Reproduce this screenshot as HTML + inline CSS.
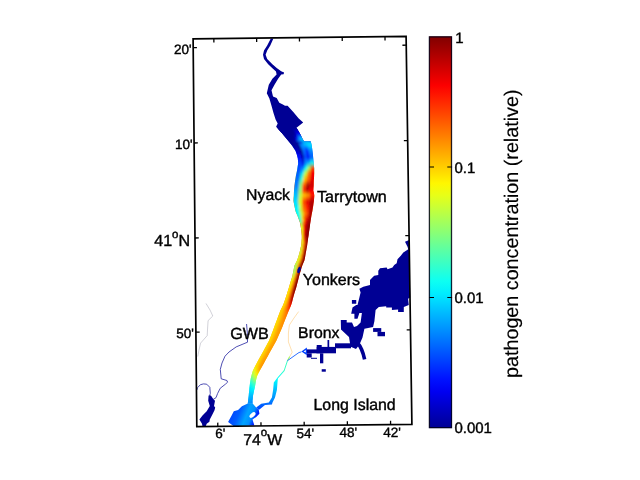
<!DOCTYPE html>
<html lang="en"><head><meta charset="utf-8"><title>pathogen concentration (relative)</title>
<style>html,body{margin:0;padding:0;background:#fff;overflow:hidden}body{width:640px;height:480px}</style>
</head><body>
<svg width="640" height="480" viewBox="0 0 640 480" style="display:block">
<defs>
<linearGradient id="jet" x1="0" y1="0" x2="0" y2="1">
<stop offset="0.0000" stop-color="#800000"/>
<stop offset="0.0312" stop-color="#9f0000"/>
<stop offset="0.0625" stop-color="#be0000"/>
<stop offset="0.0938" stop-color="#dd0000"/>
<stop offset="0.1250" stop-color="#fc0000"/>
<stop offset="0.1562" stop-color="#ff1d00"/>
<stop offset="0.1875" stop-color="#ff3c00"/>
<stop offset="0.2188" stop-color="#ff5b00"/>
<stop offset="0.2500" stop-color="#ff7a00"/>
<stop offset="0.2812" stop-color="#ff9a00"/>
<stop offset="0.3125" stop-color="#ffb900"/>
<stop offset="0.3438" stop-color="#ffd800"/>
<stop offset="0.3750" stop-color="#fff700"/>
<stop offset="0.4062" stop-color="#e7ff18"/>
<stop offset="0.4375" stop-color="#c8ff37"/>
<stop offset="0.4688" stop-color="#a9ff56"/>
<stop offset="0.5000" stop-color="#8aff75"/>
<stop offset="0.5312" stop-color="#6aff95"/>
<stop offset="0.5625" stop-color="#4bffb4"/>
<stop offset="0.5938" stop-color="#2cffd3"/>
<stop offset="0.6250" stop-color="#0dfff2"/>
<stop offset="0.6562" stop-color="#00edff"/>
<stop offset="0.6875" stop-color="#00cdff"/>
<stop offset="0.7188" stop-color="#00aeff"/>
<stop offset="0.7500" stop-color="#008fff"/>
<stop offset="0.7812" stop-color="#0070ff"/>
<stop offset="0.8125" stop-color="#0050ff"/>
<stop offset="0.8438" stop-color="#0031ff"/>
<stop offset="0.8750" stop-color="#0012ff"/>
<stop offset="0.9062" stop-color="#0000f2"/>
<stop offset="0.9375" stop-color="#0000d2"/>
<stop offset="0.9688" stop-color="#0000b3"/>
<stop offset="1.0000" stop-color="#000094"/>
</linearGradient>
<linearGradient id="ln0" gradientUnits="userSpaceOnUse" x1="0" y1="128.0" x2="0" y2="404.0">
<stop offset="0.0000" stop-color="#000094"/>
<stop offset="0.0217" stop-color="#000094"/>
<stop offset="0.0362" stop-color="#000094"/>
<stop offset="0.0471" stop-color="#000094"/>
<stop offset="0.0616" stop-color="#000094"/>
<stop offset="0.0797" stop-color="#0000bc"/>
<stop offset="0.1051" stop-color="#000dff"/>
<stop offset="0.1268" stop-color="#003fff"/>
<stop offset="0.1449" stop-color="#0049ff"/>
<stop offset="0.1630" stop-color="#005dff"/>
<stop offset="0.1884" stop-color="#0071ff"/>
<stop offset="0.2101" stop-color="#0085ff"/>
<stop offset="0.2246" stop-color="#00a3ff"/>
<stop offset="0.2428" stop-color="#00c1ff"/>
<stop offset="0.2681" stop-color="#00dfff"/>
<stop offset="0.2899" stop-color="#00f3ff"/>
<stop offset="0.3116" stop-color="#08fff7"/>
<stop offset="0.3333" stop-color="#3affc5"/>
<stop offset="0.3551" stop-color="#daff25"/>
<stop offset="0.3877" stop-color="#eeff11"/>
<stop offset="0.4167" stop-color="#daff25"/>
<stop offset="0.4493" stop-color="#bcff43"/>
<stop offset="0.4783" stop-color="#daff25"/>
<stop offset="0.5036" stop-color="#8aff75"/>
<stop offset="0.5217" stop-color="#8aff75"/>
<stop offset="0.5507" stop-color="#eeff11"/>
<stop offset="0.5870" stop-color="#fff200"/>
<stop offset="0.6232" stop-color="#ffe800"/>
<stop offset="0.6449" stop-color="#ffde00"/>
<stop offset="0.6667" stop-color="#ffd400"/>
<stop offset="0.6957" stop-color="#ffde00"/>
<stop offset="0.7500" stop-color="#ffde00"/>
<stop offset="0.8043" stop-color="#ffde00"/>
<stop offset="0.8406" stop-color="#ffde00"/>
<stop offset="0.8623" stop-color="#ffe800"/>
<stop offset="0.8768" stop-color="#daff25"/>
<stop offset="0.8913" stop-color="#9eff61"/>
<stop offset="0.9058" stop-color="#58ffa7"/>
<stop offset="0.9239" stop-color="#12ffed"/>
<stop offset="0.9457" stop-color="#00dfff"/>
<stop offset="0.9674" stop-color="#00b7ff"/>
<stop offset="0.9855" stop-color="#0099ff"/>
<stop offset="1.0000" stop-color="#007bff"/>
</linearGradient>
<linearGradient id="ln1" gradientUnits="userSpaceOnUse" x1="0" y1="128.0" x2="0" y2="404.0">
<stop offset="0.0000" stop-color="#000094"/>
<stop offset="0.0217" stop-color="#000094"/>
<stop offset="0.0362" stop-color="#000094"/>
<stop offset="0.0471" stop-color="#000094"/>
<stop offset="0.0616" stop-color="#000094"/>
<stop offset="0.0797" stop-color="#000094"/>
<stop offset="0.1051" stop-color="#0000a8"/>
<stop offset="0.1268" stop-color="#0000e4"/>
<stop offset="0.1449" stop-color="#0071ff"/>
<stop offset="0.1630" stop-color="#00dfff"/>
<stop offset="0.1884" stop-color="#3affc5"/>
<stop offset="0.2101" stop-color="#8aff75"/>
<stop offset="0.2246" stop-color="#8aff75"/>
<stop offset="0.2428" stop-color="#bcff43"/>
<stop offset="0.2681" stop-color="#daff25"/>
<stop offset="0.2899" stop-color="#c6ff39"/>
<stop offset="0.3116" stop-color="#bcff43"/>
<stop offset="0.3333" stop-color="#ffde00"/>
<stop offset="0.3551" stop-color="#ff3400"/>
<stop offset="0.3877" stop-color="#ff2000"/>
<stop offset="0.4167" stop-color="#ffac00"/>
<stop offset="0.4493" stop-color="#fffc00"/>
<stop offset="0.4783" stop-color="#fff200"/>
<stop offset="0.5036" stop-color="#daff25"/>
<stop offset="0.5217" stop-color="#eeff11"/>
<stop offset="0.5507" stop-color="#ffde00"/>
<stop offset="0.5870" stop-color="#ffca00"/>
<stop offset="0.6232" stop-color="#ffc000"/>
<stop offset="0.6449" stop-color="#ffb600"/>
<stop offset="0.6667" stop-color="#ffc000"/>
<stop offset="0.6957" stop-color="#ffca00"/>
<stop offset="0.7500" stop-color="#ffca00"/>
<stop offset="0.8043" stop-color="#ffca00"/>
<stop offset="0.8406" stop-color="#ffca00"/>
<stop offset="0.8623" stop-color="#ffd400"/>
<stop offset="0.8768" stop-color="#fffc00"/>
<stop offset="0.8913" stop-color="#c6ff39"/>
<stop offset="0.9058" stop-color="#76ff89"/>
<stop offset="0.9239" stop-color="#26ffd9"/>
<stop offset="0.9457" stop-color="#00e9ff"/>
<stop offset="0.9674" stop-color="#00c1ff"/>
<stop offset="0.9855" stop-color="#00a3ff"/>
<stop offset="1.0000" stop-color="#008fff"/>
</linearGradient>
<linearGradient id="ln2" gradientUnits="userSpaceOnUse" x1="0" y1="128.0" x2="0" y2="404.0">
<stop offset="0.0000" stop-color="#000094"/>
<stop offset="0.0217" stop-color="#000094"/>
<stop offset="0.0362" stop-color="#000094"/>
<stop offset="0.0471" stop-color="#0000c6"/>
<stop offset="0.0616" stop-color="#008fff"/>
<stop offset="0.0797" stop-color="#0071ff"/>
<stop offset="0.1051" stop-color="#0049ff"/>
<stop offset="0.1268" stop-color="#008fff"/>
<stop offset="0.1449" stop-color="#12ffed"/>
<stop offset="0.1630" stop-color="#bcff43"/>
<stop offset="0.1884" stop-color="#ffc000"/>
<stop offset="0.2101" stop-color="#ff4800"/>
<stop offset="0.2246" stop-color="#ff3400"/>
<stop offset="0.2428" stop-color="#ffc000"/>
<stop offset="0.2681" stop-color="#ff4800"/>
<stop offset="0.2899" stop-color="#ff7000"/>
<stop offset="0.3116" stop-color="#ff9800"/>
<stop offset="0.3333" stop-color="#ff3400"/>
<stop offset="0.3551" stop-color="#e30000"/>
<stop offset="0.3877" stop-color="#cf0000"/>
<stop offset="0.4167" stop-color="#ff4800"/>
<stop offset="0.4493" stop-color="#ff5c00"/>
<stop offset="0.4783" stop-color="#ff7000"/>
<stop offset="0.5036" stop-color="#ff8400"/>
<stop offset="0.5217" stop-color="#ff7000"/>
<stop offset="0.5507" stop-color="#ff5c00"/>
<stop offset="0.5870" stop-color="#ff5c00"/>
<stop offset="0.6232" stop-color="#ff7000"/>
<stop offset="0.6449" stop-color="#ff8400"/>
<stop offset="0.6667" stop-color="#ffa200"/>
<stop offset="0.6957" stop-color="#ffac00"/>
<stop offset="0.7500" stop-color="#ffac00"/>
<stop offset="0.8043" stop-color="#ffac00"/>
<stop offset="0.8406" stop-color="#ffac00"/>
<stop offset="0.8623" stop-color="#ffb600"/>
<stop offset="0.8768" stop-color="#ffd400"/>
<stop offset="0.8913" stop-color="#eeff11"/>
<stop offset="0.9058" stop-color="#9eff61"/>
<stop offset="0.9239" stop-color="#3affc5"/>
<stop offset="0.9457" stop-color="#00f3ff"/>
<stop offset="0.9674" stop-color="#00cbff"/>
<stop offset="0.9855" stop-color="#00adff"/>
<stop offset="1.0000" stop-color="#0099ff"/>
</linearGradient>
<linearGradient id="ln3" gradientUnits="userSpaceOnUse" x1="0" y1="128.0" x2="0" y2="404.0">
<stop offset="0.0000" stop-color="#000094"/>
<stop offset="0.0217" stop-color="#000094"/>
<stop offset="0.0362" stop-color="#0000f8"/>
<stop offset="0.0471" stop-color="#00adff"/>
<stop offset="0.0616" stop-color="#00c1ff"/>
<stop offset="0.0797" stop-color="#002bff"/>
<stop offset="0.1051" stop-color="#0000f8"/>
<stop offset="0.1268" stop-color="#00c1ff"/>
<stop offset="0.1449" stop-color="#bcff43"/>
<stop offset="0.1630" stop-color="#ff7a00"/>
<stop offset="0.1884" stop-color="#ff5c00"/>
<stop offset="0.2101" stop-color="#9d0000"/>
<stop offset="0.2246" stop-color="#bb0000"/>
<stop offset="0.2428" stop-color="#ff9800"/>
<stop offset="0.2681" stop-color="#e30000"/>
<stop offset="0.2899" stop-color="#ff2000"/>
<stop offset="0.3116" stop-color="#ff4800"/>
<stop offset="0.3333" stop-color="#cf0000"/>
<stop offset="0.3551" stop-color="#930000"/>
<stop offset="0.3877" stop-color="#890000"/>
<stop offset="0.4167" stop-color="#b10000"/>
<stop offset="0.4493" stop-color="#b10000"/>
<stop offset="0.4783" stop-color="#a70000"/>
<stop offset="0.5036" stop-color="#a70000"/>
<stop offset="0.5217" stop-color="#9d0000"/>
<stop offset="0.5507" stop-color="#9d0000"/>
<stop offset="0.5870" stop-color="#a70000"/>
<stop offset="0.6232" stop-color="#e30000"/>
<stop offset="0.6449" stop-color="#ff4800"/>
<stop offset="0.6667" stop-color="#ff8400"/>
<stop offset="0.6957" stop-color="#ff9800"/>
<stop offset="0.7500" stop-color="#ffa200"/>
<stop offset="0.8043" stop-color="#ffa200"/>
<stop offset="0.8406" stop-color="#ffa200"/>
<stop offset="0.8623" stop-color="#ffa200"/>
<stop offset="0.8768" stop-color="#ffb600"/>
<stop offset="0.8913" stop-color="#fff200"/>
<stop offset="0.9058" stop-color="#bcff43"/>
<stop offset="0.9239" stop-color="#4effb1"/>
<stop offset="0.9457" stop-color="#00fdff"/>
<stop offset="0.9674" stop-color="#00c1ff"/>
<stop offset="0.9855" stop-color="#00a3ff"/>
<stop offset="1.0000" stop-color="#0085ff"/>
</linearGradient>
<linearGradient id="ln4" gradientUnits="userSpaceOnUse" x1="0" y1="128.0" x2="0" y2="404.0">
<stop offset="0.0000" stop-color="#000094"/>
<stop offset="0.0217" stop-color="#0000f8"/>
<stop offset="0.0362" stop-color="#00c1ff"/>
<stop offset="0.0471" stop-color="#00c1ff"/>
<stop offset="0.0616" stop-color="#00dfff"/>
<stop offset="0.0797" stop-color="#008fff"/>
<stop offset="0.1051" stop-color="#005dff"/>
<stop offset="0.1268" stop-color="#12ffed"/>
<stop offset="0.1449" stop-color="#ff4800"/>
<stop offset="0.1630" stop-color="#f70000"/>
<stop offset="0.1884" stop-color="#e30000"/>
<stop offset="0.2101" stop-color="#cf0000"/>
<stop offset="0.2246" stop-color="#f70000"/>
<stop offset="0.2428" stop-color="#ff1600"/>
<stop offset="0.2681" stop-color="#b10000"/>
<stop offset="0.2899" stop-color="#b10000"/>
<stop offset="0.3116" stop-color="#b10000"/>
<stop offset="0.3333" stop-color="#9d0000"/>
<stop offset="0.3551" stop-color="#800000"/>
<stop offset="0.3877" stop-color="#800000"/>
<stop offset="0.4167" stop-color="#800000"/>
<stop offset="0.4493" stop-color="#800000"/>
<stop offset="0.4783" stop-color="#800000"/>
<stop offset="0.5036" stop-color="#800000"/>
<stop offset="0.5217" stop-color="#800000"/>
<stop offset="0.5507" stop-color="#800000"/>
<stop offset="0.5870" stop-color="#800000"/>
<stop offset="0.6232" stop-color="#a70000"/>
<stop offset="0.6449" stop-color="#f70000"/>
<stop offset="0.6667" stop-color="#ff6600"/>
<stop offset="0.6957" stop-color="#ff8400"/>
<stop offset="0.7500" stop-color="#ff9800"/>
<stop offset="0.8043" stop-color="#ff9800"/>
<stop offset="0.8406" stop-color="#ff9800"/>
<stop offset="0.8623" stop-color="#ff8e00"/>
<stop offset="0.8768" stop-color="#ffa200"/>
<stop offset="0.8913" stop-color="#ffde00"/>
<stop offset="0.9058" stop-color="#d0ff2f"/>
<stop offset="0.9239" stop-color="#62ff9d"/>
<stop offset="0.9457" stop-color="#00fdff"/>
<stop offset="0.9674" stop-color="#00b7ff"/>
<stop offset="0.9855" stop-color="#008fff"/>
<stop offset="1.0000" stop-color="#0067ff"/>
</linearGradient>
<linearGradient id="bay" gradientUnits="userSpaceOnUse" x1="231" y1="409" x2="259" y2="421">
<stop offset="0" stop-color="#003fff"/>
<stop offset="0.3" stop-color="#005dff"/>
<stop offset="0.55" stop-color="#00a3ff"/>
<stop offset="0.72" stop-color="#008fff"/>
<stop offset="0.85" stop-color="#002bff"/>
<stop offset="1" stop-color="#0000f8"/>
</linearGradient>
<linearGradient id="er" gradientUnits="userSpaceOnUse" x1="0" y1="370" x2="0" y2="408">
<stop offset="0" stop-color="#3affc5"/>
<stop offset="0.25" stop-color="#00fdff"/>
<stop offset="0.5" stop-color="#00c1ff"/>
<stop offset="0.8" stop-color="#0085ff"/>
<stop offset="1" stop-color="#0049ff"/>
</linearGradient>
<clipPath id="stemclip"><polygon points="277.5,128.3 279.8,130.8 282.0,133.3 284.0,135.8 286.1,138.3 288.2,140.8 288.5,141.2 288.6,141.3 290.2,143.3 292.2,145.8 293.8,148.3 295.5,150.8 296.4,153.3 297.2,155.8 297.8,158.3 298.0,160.8 298.2,163.3 297.8,165.8 297.4,168.3 297.0,170.8 296.4,173.3 295.9,175.8 295.5,178.3 295.1,180.8 294.8,183.3 294.5,185.8 294.3,188.3 294.0,190.8 293.9,193.3 293.8,195.8 293.6,198.3 293.5,200.8 293.9,203.3 294.4,205.8 294.9,208.3 295.4,210.8 296.3,213.3 297.5,215.8 298.4,218.3 299.3,220.8 300.2,223.3 300.6,225.8 301.0,228.3 301.4,230.8 301.6,233.3 301.8,235.8 301.8,238.3 301.6,240.8 301.4,243.3 301.1,245.8 300.5,248.3 300.0,250.8 299.3,253.3 298.6,255.8 297.8,258.3 296.9,260.8 295.6,263.3 294.4,265.8 293.9,268.3 293.4,270.8 292.9,273.3 292.4,275.8 291.7,278.3 290.9,280.8 290.2,283.3 289.4,285.8 288.7,288.3 287.9,290.8 287.1,293.3 286.4,295.8 285.5,298.3 284.7,300.8 283.8,303.3 282.8,305.8 281.5,308.3 280.3,310.8 279.4,313.3 278.4,315.8 277.5,318.3 276.6,320.8 275.6,323.3 274.7,325.8 273.8,328.3 272.9,330.8 271.9,333.3 271.0,335.8 270.0,338.3 269.0,340.8 267.6,343.3 266.3,345.8 264.9,348.3 263.6,350.8 262.2,353.3 260.8,355.8 259.4,358.3 258.0,360.8 256.7,363.3 255.4,365.8 254.1,368.3 252.9,370.8 252.1,373.3 251.4,375.8 250.8,378.3 250.4,380.8 250.0,383.3 249.7,385.8 249.4,388.3 249.2,390.8 248.9,393.3 248.7,395.8 248.4,398.3 248.1,400.8 247.8,403.3 247.8,403.8 252.6,403.8 252.6,403.3 252.5,400.8 252.8,398.3 253.0,395.8 253.5,393.3 254.0,390.8 254.6,388.3 255.1,385.8 255.5,383.3 255.9,380.8 256.5,378.3 257.2,375.8 258.4,373.3 259.7,370.8 261.1,368.3 262.5,365.8 263.9,363.3 265.2,360.8 266.6,358.3 268.0,355.8 269.3,353.3 270.7,350.8 272.1,348.3 273.5,345.8 274.9,343.3 276.3,340.8 277.4,338.3 278.5,335.8 279.6,333.3 280.7,330.8 281.8,328.3 282.8,325.8 283.7,323.3 284.7,320.8 285.7,318.3 286.7,315.8 287.7,313.3 288.7,310.8 289.8,308.3 290.9,305.8 291.7,303.3 292.4,300.8 293.0,298.3 293.7,295.8 294.4,293.3 295.2,290.8 296.0,288.3 296.7,285.8 297.3,283.3 298.0,280.8 298.6,278.3 299.2,275.8 299.9,273.3 300.7,270.8 301.4,268.3 302.2,265.8 303.2,263.3 304.3,260.8 304.9,258.3 305.3,255.8 305.7,253.3 306.2,250.8 306.6,248.3 307.1,245.8 307.4,243.3 307.8,240.8 308.1,238.3 308.5,235.8 308.8,233.3 309.2,230.8 309.5,228.3 309.9,225.8 310.2,223.3 310.6,220.8 311.0,218.3 311.4,215.8 311.9,213.3 312.4,210.8 312.8,208.3 313.2,205.8 313.5,203.3 313.9,200.8 314.1,198.3 314.3,195.8 314.0,193.3 313.3,190.8 313.4,188.3 313.6,185.8 313.7,183.3 313.8,180.8 314.0,178.3 314.1,175.8 314.2,173.3 314.2,170.8 314.2,168.3 313.9,165.8 313.7,163.3 313.4,160.8 313.2,158.3 313.0,155.8 312.7,153.3 312.4,150.8 312.1,148.3 311.8,145.8 311.2,143.3 310.7,141.3 304.0,141.2 303.7,140.8 302.3,138.3 301.1,135.8 299.7,133.3 298.3,130.8 296.8,128.3"/></clipPath>
<filter id="b1" x="-20%" y="-5%" width="140%" height="110%"><feGaussianBlur stdDeviation="0.9"/></filter>
</defs>
<rect width="640" height="480" fill="#fff"/>
<g fill="#000094">
<polygon points="409.3,240.0 410.2,297.5 408.1,298.8 408.8,305.0 403.8,306.9 403.8,311.9 398.1,311.9 398.1,309.4 391.9,310.0 391.9,307.5 386.2,307.5 386.2,306.2 378.8,306.9 375.6,310.0 374.4,321.2 373.1,326.9 364.4,328.8 362.5,337.5 359.4,344.8 356.0,349.0 350.0,346.5 350.0,343.3 349.0,337.0 341.0,329.5 340.8,320.0 346.7,320.0 346.7,322.5 352.0,322.5 354.0,327.0 357.0,326.0 360.6,322.5 361.9,313.1 359.4,313.1 357.5,318.8 354.4,318.8 354.4,313.8 351.2,313.8 352.5,307.5 356.2,305.0 357.5,305.0 359.4,297.5 360.6,292.5 359.4,288.8 361.9,287.5 363.3,286.7 370.0,285.0 370.0,280.0 371.7,278.3 374.2,275.8 378.3,275.0 378.3,270.8 380.0,268.3 386.7,267.5 387.5,269.2 392.5,267.5 394.2,265.0 396.7,263.3 397.5,259.2 400.8,255.8 403.3,252.5 408.3,249.2 407.5,246.7 405.0,241.7 409.2,240.0"/>
<rect x="351.9" y="300" width="4.35" height="3.75"/>
<rect x="373.1" y="328.1" width="8.15" height="3.80"/>
<rect x="377.5" y="331.9" width="7.50" height="4.35"/>
<rect x="335" y="343.3" width="16.00" height="5.00"/>
<rect x="316.7" y="346.9" width="19.30" height="6.40"/>
<rect x="327.5" y="340" width="1.70" height="7.00"/>
<rect x="316.7" y="345" width="5.00" height="8.30"/>
<rect x="305.5" y="349.4" width="11.50" height="3.90"/>
<rect x="306.7" y="353.3" width="5.00" height="4.20"/>
<rect x="311" y="357.8" width="6.00" height="1.00"/>
<rect x="320" y="353.3" width="3.30" height="10.00"/>
<rect x="321.7" y="369.2" width="4.10" height="2.50"/>
</g>
<path d="M357.2,342.5 Q362.2,348 364.6,359.3" fill="none" stroke="#000094" stroke-width="3.6"/>
<polygon points="301.4,351.6 306.9,347.6 306.9,355.2" fill="#0040ff"/><polygon points="303.6,351.4 305.8,349.9 305.8,352.6" fill="#fff"/>
<polygon points="208.6,395.4 210.9,395.4 213.4,399.3 215.0,400.8 214.0,406.0 215.2,407.5 214.5,410.2 212.4,414.4 209.8,419.6 209.4,421.8 206.7,423.8 205.6,426.4 202.5,426.4 202.0,423.8 199.4,419.6 202.5,415.4 206.7,411.2 209.8,406.0 208.2,400.8" fill="#000094"/>
<polyline points="246.6,324.4 247.3,333.0 247.5,342.2 236.2,346.9 229.0,352.0 225.0,356.2 222.0,363.0 220.3,369.4 221.2,378.8 226.9,380.5 227.6,382.2 225.4,384.2 220.2,388.3 217.6,393.5 216.0,397.7 213.4,399.3" fill="none" stroke="#14149a" stroke-width="0.75" stroke-opacity="1" stroke-linejoin="round" stroke-linecap="round"/>
<polyline points="197.0,389.6 197.6,387.6 200.4,384.7 203.5,383.9 206.7,384.2 209.8,387.3 210.3,393.5 209.5,396.0" fill="none" stroke="#14149a" stroke-width="0.75" stroke-opacity="1" stroke-linejoin="round" stroke-linecap="round"/>
<polyline points="206.2,303.8 210.0,310.0 212.8,316.0 208.1,320.6 207.6,328.0 207.2,335.6 200.6,343.1 199.0,350.0 197.8,356.2" fill="none" stroke="#9a9aaa" stroke-width="0.45" stroke-opacity="1" stroke-linejoin="round" stroke-linecap="round"/>
<polygon points="270.8,38.6 267.2,45.4 264.0,50.6 263.0,54.8 264.0,59.0 268.2,64.2 272.4,68.3 276.0,71.5 276.6,74.6 272.4,78.8 268.8,84.8 266.8,93.3 269.4,98.5 271.5,105.8 273.5,113.1 275.6,119.4 277.7,123.5 276.1,126.7 280.8,131.9 284.0,134.8 300.6,134.8 296.5,127.7 303.2,122.5 298.5,118.3 293.3,112.1 287.6,105.8 285.0,105.8 282.4,104.3 279.3,102.7 276.7,98.0 273.0,96.5 271.5,90.2 274.5,84.8 278.1,78.8 281.2,74.6 283.6,74.2 284.1,72.6 281.2,71.2 277.0,68.3 272.4,64.2 267.2,59.0 265.6,54.8 267.2,50.6 270.3,45.4 273.4,38.6" fill="#000094"/>
<polygon points="277.5,128.3 279.8,130.8 282.0,133.3 284.0,135.8 286.1,138.3 288.2,140.8 288.5,141.2 288.6,141.3 290.2,143.3 292.2,145.8 293.8,148.3 295.5,150.8 296.4,153.3 297.2,155.8 297.8,158.3 298.0,160.8 298.2,163.3 297.8,165.8 297.4,168.3 297.0,170.8 296.4,173.3 295.9,175.8 295.5,178.3 295.1,180.8 294.8,183.3 294.5,185.8 294.3,188.3 294.0,190.8 293.9,193.3 293.8,195.8 293.6,198.3 293.5,200.8 293.9,203.3 294.4,205.8 294.9,208.3 295.4,210.8 296.3,213.3 297.5,215.8 298.4,218.3 299.3,220.8 300.2,223.3 300.6,225.8 301.0,228.3 301.4,230.8 301.6,233.3 301.8,235.8 301.8,238.3 301.6,240.8 301.4,243.3 301.1,245.8 300.5,248.3 300.0,250.8 299.3,253.3 298.6,255.8 297.8,258.3 296.9,260.8 295.6,263.3 294.4,265.8 293.9,268.3 293.4,270.8 292.9,273.3 292.4,275.8 291.7,278.3 290.9,280.8 290.2,283.3 289.4,285.8 288.7,288.3 287.9,290.8 287.1,293.3 286.4,295.8 285.5,298.3 284.7,300.8 283.8,303.3 282.8,305.8 281.5,308.3 280.3,310.8 279.4,313.3 278.4,315.8 277.5,318.3 276.6,320.8 275.6,323.3 274.7,325.8 273.8,328.3 272.9,330.8 271.9,333.3 271.0,335.8 270.0,338.3 269.0,340.8 267.6,343.3 266.3,345.8 264.9,348.3 263.6,350.8 262.2,353.3 260.8,355.8 259.4,358.3 258.0,360.8 256.7,363.3 255.4,365.8 254.1,368.3 252.9,370.8 252.1,373.3 251.4,375.8 250.8,378.3 250.4,380.8 250.0,383.3 249.7,385.8 249.4,388.3 249.2,390.8 248.9,393.3 248.7,395.8 248.4,398.3 248.1,400.8 247.8,403.3 247.8,403.8 252.6,403.8 252.6,403.3 252.5,400.8 252.8,398.3 253.0,395.8 253.5,393.3 254.0,390.8 254.6,388.3 255.1,385.8 255.5,383.3 255.9,380.8 256.5,378.3 257.2,375.8 258.4,373.3 259.7,370.8 261.1,368.3 262.5,365.8 263.9,363.3 265.2,360.8 266.6,358.3 268.0,355.8 269.3,353.3 270.7,350.8 272.1,348.3 273.5,345.8 274.9,343.3 276.3,340.8 277.4,338.3 278.5,335.8 279.6,333.3 280.7,330.8 281.8,328.3 282.8,325.8 283.7,323.3 284.7,320.8 285.7,318.3 286.7,315.8 287.7,313.3 288.7,310.8 289.8,308.3 290.9,305.8 291.7,303.3 292.4,300.8 293.0,298.3 293.7,295.8 294.4,293.3 295.2,290.8 296.0,288.3 296.7,285.8 297.3,283.3 298.0,280.8 298.6,278.3 299.2,275.8 299.9,273.3 300.7,270.8 301.4,268.3 302.2,265.8 303.2,263.3 304.3,260.8 304.9,258.3 305.3,255.8 305.7,253.3 306.2,250.8 306.6,248.3 307.1,245.8 307.4,243.3 307.8,240.8 308.1,238.3 308.5,235.8 308.8,233.3 309.2,230.8 309.5,228.3 309.9,225.8 310.2,223.3 310.6,220.8 311.0,218.3 311.4,215.8 311.9,213.3 312.4,210.8 312.8,208.3 313.2,205.8 313.5,203.3 313.9,200.8 314.1,198.3 314.3,195.8 314.0,193.3 313.3,190.8 313.4,188.3 313.6,185.8 313.7,183.3 313.8,180.8 314.0,178.3 314.1,175.8 314.2,173.3 314.2,170.8 314.2,168.3 313.9,165.8 313.7,163.3 313.4,160.8 313.2,158.3 313.0,155.8 312.7,153.3 312.4,150.8 312.1,148.3 311.8,145.8 311.2,143.3 310.7,141.3 304.0,141.2 303.7,140.8 302.3,138.3 301.1,135.8 299.7,133.3 298.3,130.8 296.8,128.3" fill="url(#ln2)"/>
<g clip-path="url(#stemclip)"><g filter="url(#b1)">
<polygon points="271.8,128.3 274.3,130.8 276.6,133.3 278.9,135.8 281.2,138.3 283.5,140.8 283.9,141.2 281.9,141.3 284.0,143.3 286.3,145.8 288.3,148.3 290.4,150.8 291.5,153.3 292.5,155.8 293.2,158.3 293.3,160.8 293.5,163.3 293.0,165.8 292.4,168.3 291.8,170.8 291.1,173.3 290.5,175.8 289.9,178.3 289.4,180.8 289.1,183.3 288.8,185.8 288.5,188.3 288.2,190.8 287.9,193.3 287.6,195.8 287.5,198.3 287.4,200.8 288.0,203.3 288.8,205.8 289.6,208.3 290.3,210.8 291.7,213.3 293.3,215.8 294.7,218.3 296.0,220.8 297.2,223.3 297.9,225.8 298.4,228.3 299.0,230.8 299.4,233.3 299.8,235.8 299.9,238.3 299.8,240.8 299.6,243.3 299.3,245.8 298.7,248.3 298.1,250.8 297.4,253.3 296.6,255.8 295.7,258.3 294.7,260.8 293.3,263.3 292.1,265.8 291.7,268.3 291.2,270.8 290.8,273.3 290.4,275.8 289.6,278.3 288.8,280.8 288.0,283.3 287.2,285.8 286.5,288.3 285.7,290.8 285.0,293.3 284.2,295.8 283.3,298.3 282.4,300.8 281.4,303.3 280.3,305.8 279.0,308.3 277.8,310.8 276.9,313.3 275.9,315.8 275.0,318.3 274.1,320.8 273.2,323.3 272.2,325.8 271.4,328.3 270.5,330.8 269.6,333.3 268.7,335.8 267.8,338.3 266.8,340.8 265.5,343.3 264.1,345.8 262.8,348.3 261.5,350.8 260.0,353.3 258.6,355.8 257.2,358.3 255.8,360.8 254.5,363.3 253.3,365.8 252.0,368.3 250.9,370.8 250.2,373.3 249.6,375.8 249.1,378.3 248.8,380.8 248.4,383.3 248.0,385.8 247.9,388.3 247.7,390.8 247.5,393.3 247.3,395.8 247.0,398.3 246.8,400.8 246.4,403.3 246.3,403.8 248.9,403.8 248.9,403.3 249.2,400.8 249.4,398.3 249.7,395.8 250.0,393.3 250.3,390.8 250.6,388.3 251.0,385.8 251.4,383.3 251.7,380.8 252.2,378.3 252.8,375.8 253.7,373.3 254.5,370.8 255.8,368.3 257.1,365.8 258.4,363.3 259.7,360.8 261.1,358.3 262.5,355.8 263.9,353.3 265.3,350.8 266.7,348.3 268.0,345.8 269.4,343.3 270.7,340.8 271.8,338.3 272.8,335.8 273.8,333.3 274.8,330.8 275.7,328.3 276.6,325.8 277.6,323.3 278.5,320.8 279.5,318.3 280.4,315.8 281.4,313.3 282.3,310.8 283.5,308.3 284.7,305.8 285.7,303.3 286.5,300.8 287.3,298.3 288.1,295.8 288.9,293.3 289.7,290.8 290.4,288.3 291.2,285.8 291.9,283.3 292.6,280.8 293.3,278.3 294.0,275.8 294.6,273.3 295.2,270.8 295.7,268.3 296.3,265.8 297.4,263.3 298.7,260.8 299.5,258.3 300.2,255.8 300.9,253.3 301.5,250.8 302.0,248.3 302.5,245.8 302.9,243.3 303.1,240.8 303.3,238.3 303.4,235.8 303.3,233.3 303.2,230.8 303.0,228.3 302.9,225.8 302.6,223.3 302.0,220.8 301.4,218.3 300.8,215.8 300.1,213.3 299.5,210.8 299.2,208.3 298.9,205.8 298.6,203.3 298.4,200.8 298.6,198.3 298.7,195.8 298.7,193.3 298.6,190.8 298.9,188.3 299.1,185.8 299.3,183.3 299.6,180.8 299.9,178.3 300.3,175.8 300.7,173.3 301.1,170.8 301.5,168.3 301.7,165.8 301.9,163.3 301.7,160.8 301.5,158.3 301.0,155.8 300.3,153.3 299.5,150.8 298.2,148.3 296.9,145.8 295.3,143.3 293.9,141.3 292.2,141.2 291.9,140.8 290.0,138.3 288.1,135.8 286.2,133.3 284.2,130.8 282.2,128.3" fill="url(#ln0)"/>
<polygon points="282.2,128.3 284.2,130.8 286.2,133.3 288.1,135.8 290.0,138.3 291.9,140.8 292.2,141.2 293.9,141.3 295.3,143.3 296.9,145.8 298.2,148.3 299.5,150.8 300.3,153.3 301.0,155.8 301.5,158.3 301.7,160.8 301.9,163.3 301.7,165.8 301.5,168.3 301.1,170.8 300.7,173.3 300.3,175.8 299.9,178.3 299.6,180.8 299.3,183.3 299.1,185.8 298.9,188.3 298.6,190.8 298.7,193.3 298.7,195.8 298.6,198.3 298.4,200.8 298.6,203.3 298.9,205.8 299.2,208.3 299.5,210.8 300.1,213.3 300.8,215.8 301.4,218.3 302.0,220.8 302.6,223.3 302.9,225.8 303.0,228.3 303.2,230.8 303.3,233.3 303.4,235.8 303.3,238.3 303.1,240.8 302.9,243.3 302.5,245.8 302.0,248.3 301.5,250.8 300.9,253.3 300.2,255.8 299.5,258.3 298.7,260.8 297.4,263.3 296.3,265.8 295.7,268.3 295.2,270.8 294.6,273.3 294.0,275.8 293.3,278.3 292.6,280.8 291.9,283.3 291.2,285.8 290.4,288.3 289.7,290.8 288.9,293.3 288.1,295.8 287.3,298.3 286.5,300.8 285.7,303.3 284.7,305.8 283.5,308.3 282.3,310.8 281.4,313.3 280.4,315.8 279.5,318.3 278.5,320.8 277.6,323.3 276.6,325.8 275.7,328.3 274.8,330.8 273.8,333.3 272.8,335.8 271.8,338.3 270.7,340.8 269.4,343.3 268.0,345.8 266.7,348.3 265.3,350.8 263.9,353.3 262.5,355.8 261.1,358.3 259.7,360.8 258.4,363.3 257.1,365.8 255.8,368.3 254.5,370.8 253.7,373.3 252.8,375.8 252.2,378.3 251.7,380.8 251.4,383.3 251.0,385.8 250.6,388.3 250.3,390.8 250.0,393.3 249.7,395.8 249.4,398.3 249.2,400.8 248.9,403.3 248.9,403.8 249.8,403.8 249.8,403.3 250.0,400.8 250.2,398.3 250.5,395.8 250.8,393.3 251.2,390.8 251.6,388.3 251.9,385.8 252.3,383.3 252.7,380.8 253.2,378.3 253.8,375.8 254.8,373.3 255.8,370.8 257.0,368.3 258.4,365.8 259.7,363.3 261.0,360.8 262.4,358.3 263.8,355.8 265.2,353.3 266.6,350.8 267.9,348.3 269.3,345.8 270.7,343.3 272.0,340.8 273.1,338.3 274.1,335.8 275.2,333.3 276.2,330.8 277.1,328.3 278.1,325.8 279.0,323.3 280.0,320.8 280.9,318.3 281.9,315.8 282.9,313.3 283.8,310.8 285.0,308.3 286.2,305.8 287.1,303.3 287.9,300.8 288.7,298.3 289.4,295.8 290.2,293.3 291.0,290.8 291.7,288.3 292.5,285.8 293.2,283.3 293.9,280.8 294.6,278.3 295.3,275.8 295.9,273.3 296.5,270.8 297.1,268.3 297.7,265.8 298.8,263.3 300.0,260.8 300.8,258.3 301.4,255.8 302.0,253.3 302.6,250.8 303.1,248.3 303.6,245.8 304.0,243.3 304.2,240.8 304.5,238.3 304.6,235.8 304.6,233.3 304.6,230.8 304.6,228.3 304.5,225.8 304.4,223.3 304.1,220.8 303.7,218.3 303.3,215.8 302.9,213.3 302.6,210.8 302.4,208.3 302.3,205.8 302.2,203.3 302.1,200.8 302.2,198.3 302.4,195.8 302.3,193.3 302.1,190.8 302.3,188.3 302.5,185.8 302.7,183.3 302.9,180.8 303.2,178.3 303.6,175.8 303.9,173.3 304.2,170.8 304.5,168.3 304.6,165.8 304.7,163.3 304.5,160.8 304.3,158.3 303.8,155.8 303.2,153.3 302.6,150.8 301.5,148.3 300.4,145.8 299.0,143.3 297.9,141.3 295.0,141.2 294.7,140.8 292.9,138.3 291.2,135.8 289.4,133.3 287.6,130.8 285.7,128.3" fill="url(#ln1)"/>
<polygon points="285.7,128.3 287.6,130.8 289.4,133.3 291.2,135.8 292.9,138.3 294.7,140.8 295.0,141.2 297.9,141.3 299.0,143.3 300.4,145.8 301.5,148.3 302.6,150.8 303.2,153.3 303.8,155.8 304.3,158.3 304.5,160.8 304.7,163.3 304.6,165.8 304.5,168.3 304.2,170.8 303.9,173.3 303.6,175.8 303.2,178.3 302.9,180.8 302.7,183.3 302.5,185.8 302.3,188.3 302.1,190.8 302.3,193.3 302.4,195.8 302.2,198.3 302.1,200.8 302.2,203.3 302.3,205.8 302.4,208.3 302.6,210.8 302.9,213.3 303.3,215.8 303.7,218.3 304.1,220.8 304.4,223.3 304.5,225.8 304.6,228.3 304.6,230.8 304.6,233.3 304.6,235.8 304.5,238.3 304.2,240.8 304.0,243.3 303.6,245.8 303.1,248.3 302.6,250.8 302.0,253.3 301.4,255.8 300.8,258.3 300.0,260.8 298.8,263.3 297.7,265.8 297.1,268.3 296.5,270.8 295.9,273.3 295.3,275.8 294.6,278.3 293.9,280.8 293.2,283.3 292.5,285.8 291.7,288.3 291.0,290.8 290.2,293.3 289.4,295.8 288.7,298.3 287.9,300.8 287.1,303.3 286.2,305.8 285.0,308.3 283.8,310.8 282.9,313.3 281.9,315.8 280.9,318.3 280.0,320.8 279.0,323.3 278.1,325.8 277.1,328.3 276.2,330.8 275.2,333.3 274.1,335.8 273.1,338.3 272.0,340.8 270.7,343.3 269.3,345.8 267.9,348.3 266.6,350.8 265.2,353.3 263.8,355.8 262.4,358.3 261.0,360.8 259.7,363.3 258.4,365.8 257.0,368.3 255.8,370.8 254.8,373.3 253.8,375.8 253.2,378.3 252.7,380.8 252.3,383.3 251.9,385.8 251.6,388.3 251.2,390.8 250.8,393.3 250.5,395.8 250.2,398.3 250.0,400.8 249.8,403.3 249.8,403.8 250.7,403.8 250.7,403.3 250.8,400.8 251.0,398.3 251.3,395.8 251.6,393.3 252.1,390.8 252.5,388.3 252.9,385.8 253.3,383.3 253.7,380.8 254.2,378.3 254.9,375.8 255.9,373.3 257.0,370.8 258.3,368.3 259.6,365.8 261.0,363.3 262.3,360.8 263.7,358.3 265.1,355.8 266.5,353.3 267.9,350.8 269.2,348.3 270.6,345.8 272.0,343.3 273.4,340.8 274.5,338.3 275.5,335.8 276.6,333.3 277.6,330.8 278.6,328.3 279.5,325.8 280.5,323.3 281.5,320.8 282.4,318.3 283.4,315.8 284.4,313.3 285.3,310.8 286.5,308.3 287.7,305.8 288.6,303.3 289.3,300.8 290.0,298.3 290.8,295.8 291.5,293.3 292.3,290.8 293.1,288.3 293.8,285.8 294.5,283.3 295.1,280.8 295.8,278.3 296.5,275.8 297.1,273.3 297.8,270.8 298.4,268.3 299.1,265.8 300.2,263.3 301.3,260.8 302.1,258.3 302.6,255.8 303.2,253.3 303.7,250.8 304.2,248.3 304.7,245.8 305.0,243.3 305.3,240.8 305.6,238.3 305.8,235.8 305.9,233.3 306.1,230.8 306.1,228.3 306.2,225.8 306.2,223.3 306.1,220.8 305.9,218.3 305.8,215.8 305.7,213.3 305.6,210.8 305.6,208.3 305.7,205.8 305.7,203.3 305.7,200.8 305.9,198.3 306.1,195.8 305.9,193.3 305.6,190.8 305.8,188.3 306.0,185.8 306.1,183.3 306.3,180.8 306.6,178.3 306.9,175.8 307.1,173.3 307.3,170.8 307.5,168.3 307.5,165.8 307.5,163.3 307.3,160.8 307.0,158.3 306.7,155.8 306.2,153.3 305.6,150.8 304.8,148.3 303.9,145.8 302.8,143.3 301.9,141.3 297.8,141.2 297.5,140.8 295.8,138.3 294.3,135.8 292.6,133.3 290.9,130.8 289.1,128.3" fill="url(#ln2)"/>
<polygon points="289.1,128.3 290.9,130.8 292.6,133.3 294.3,135.8 295.8,138.3 297.5,140.8 297.8,141.2 301.9,141.3 302.8,143.3 303.9,145.8 304.8,148.3 305.6,150.8 306.2,153.3 306.7,155.8 307.0,158.3 307.3,160.8 307.5,163.3 307.5,165.8 307.5,168.3 307.3,170.8 307.1,173.3 306.9,175.8 306.6,178.3 306.3,180.8 306.1,183.3 306.0,185.8 305.8,188.3 305.6,190.8 305.9,193.3 306.1,195.8 305.9,198.3 305.7,200.8 305.7,203.3 305.7,205.8 305.6,208.3 305.6,210.8 305.7,213.3 305.8,215.8 305.9,218.3 306.1,220.8 306.2,223.3 306.2,225.8 306.1,228.3 306.1,230.8 305.9,233.3 305.8,235.8 305.6,238.3 305.3,240.8 305.0,243.3 304.7,245.8 304.2,248.3 303.7,250.8 303.2,253.3 302.6,255.8 302.1,258.3 301.3,260.8 300.2,263.3 299.1,265.8 298.4,268.3 297.8,270.8 297.1,273.3 296.5,275.8 295.8,278.3 295.1,280.8 294.5,283.3 293.8,285.8 293.1,288.3 292.3,290.8 291.5,293.3 290.8,295.8 290.0,298.3 289.3,300.8 288.6,303.3 287.7,305.8 286.5,308.3 285.3,310.8 284.4,313.3 283.4,315.8 282.4,318.3 281.5,320.8 280.5,323.3 279.5,325.8 278.6,328.3 277.6,330.8 276.6,333.3 275.5,335.8 274.5,338.3 273.4,340.8 272.0,343.3 270.6,345.8 269.2,348.3 267.9,350.8 266.5,353.3 265.1,355.8 263.7,358.3 262.3,360.8 261.0,363.3 259.6,365.8 258.3,368.3 257.0,370.8 255.9,373.3 254.9,375.8 254.2,378.3 253.7,380.8 253.3,383.3 252.9,385.8 252.5,388.3 252.1,390.8 251.6,393.3 251.3,395.8 251.0,398.3 250.8,400.8 250.7,403.3 250.7,403.8 251.5,403.8 251.5,403.3 251.6,400.8 251.8,398.3 252.1,395.8 252.5,393.3 252.9,390.8 253.4,388.3 253.9,385.8 254.3,383.3 254.7,380.8 255.3,378.3 255.9,375.8 257.1,373.3 258.2,370.8 259.5,368.3 260.9,365.8 262.3,363.3 263.6,360.8 265.0,358.3 266.4,355.8 267.8,353.3 269.1,350.8 270.5,348.3 271.9,345.8 273.3,343.3 274.7,340.8 275.8,338.3 276.9,335.8 277.9,333.3 279.0,330.8 280.0,328.3 281.0,325.8 282.0,323.3 282.9,320.8 283.9,318.3 284.9,315.8 285.9,313.3 286.8,310.8 287.9,308.3 289.1,305.8 290.0,303.3 290.7,300.8 291.4,298.3 292.1,295.8 292.8,293.3 293.6,290.8 294.4,288.3 295.1,285.8 295.8,283.3 296.4,280.8 297.1,278.3 297.7,275.8 298.4,273.3 299.1,270.8 299.8,268.3 300.5,265.8 301.5,263.3 302.6,260.8 303.4,258.3 303.9,255.8 304.3,253.3 304.8,250.8 305.3,248.3 305.7,245.8 306.1,243.3 306.4,240.8 306.7,238.3 307.0,235.8 307.2,233.3 307.5,230.8 307.7,228.3 307.8,225.8 308.0,223.3 308.1,220.8 308.2,218.3 308.3,215.8 308.5,213.3 308.7,210.8 308.9,208.3 309.0,205.8 309.2,203.3 309.4,200.8 309.6,198.3 309.8,195.8 309.5,193.3 309.1,190.8 309.2,188.3 309.4,185.8 309.5,183.3 309.7,180.8 309.9,178.3 310.1,175.8 310.3,173.3 310.4,170.8 310.5,168.3 310.4,165.8 310.3,163.3 310.0,160.8 309.8,158.3 309.5,155.8 309.1,153.3 308.7,150.8 308.1,148.3 307.5,145.8 306.6,143.3 305.8,141.3 300.6,141.2 300.3,140.8 298.7,138.3 297.3,135.8 295.8,133.3 294.2,130.8 292.6,128.3" fill="url(#ln3)"/>
<polygon points="292.6,128.3 294.2,130.8 295.8,133.3 297.3,135.8 298.7,138.3 300.3,140.8 300.6,141.2 305.8,141.3 306.6,143.3 307.5,145.8 308.1,148.3 308.7,150.8 309.1,153.3 309.5,155.8 309.8,158.3 310.0,160.8 310.3,163.3 310.4,165.8 310.5,168.3 310.4,170.8 310.3,173.3 310.1,175.8 309.9,178.3 309.7,180.8 309.5,183.3 309.4,185.8 309.2,188.3 309.1,190.8 309.5,193.3 309.8,195.8 309.6,198.3 309.4,200.8 309.2,203.3 309.0,205.8 308.9,208.3 308.7,210.8 308.5,213.3 308.3,215.8 308.2,218.3 308.1,220.8 308.0,223.3 307.8,225.8 307.7,228.3 307.5,230.8 307.2,233.3 307.0,235.8 306.7,238.3 306.4,240.8 306.1,243.3 305.7,245.8 305.3,248.3 304.8,250.8 304.3,253.3 303.9,255.8 303.4,258.3 302.6,260.8 301.5,263.3 300.5,265.8 299.8,268.3 299.1,270.8 298.4,273.3 297.7,275.8 297.1,278.3 296.4,280.8 295.8,283.3 295.1,285.8 294.4,288.3 293.6,290.8 292.8,293.3 292.1,295.8 291.4,298.3 290.7,300.8 290.0,303.3 289.1,305.8 287.9,308.3 286.8,310.8 285.9,313.3 284.9,315.8 283.9,318.3 282.9,320.8 282.0,323.3 281.0,325.8 280.0,328.3 279.0,330.8 277.9,333.3 276.9,335.8 275.8,338.3 274.7,340.8 273.3,343.3 271.9,345.8 270.5,348.3 269.1,350.8 267.8,353.3 266.4,355.8 265.0,358.3 263.6,360.8 262.3,363.3 260.9,365.8 259.5,368.3 258.2,370.8 257.1,373.3 255.9,375.8 255.3,378.3 254.7,380.8 254.3,383.3 253.9,385.8 253.4,388.3 252.9,390.8 252.5,393.3 252.1,395.8 251.8,398.3 251.6,400.8 251.5,403.3 251.5,403.8 254.1,403.8 254.0,403.3 253.9,400.8 254.1,398.3 254.3,395.8 254.8,393.3 255.5,390.8 256.1,388.3 256.7,385.8 257.1,383.3 257.6,380.8 258.2,378.3 258.9,375.8 260.3,373.3 261.7,370.8 263.2,368.3 264.6,365.8 266.0,363.3 267.4,360.8 268.8,358.3 270.1,355.8 271.5,353.3 272.8,350.8 274.2,348.3 275.6,345.8 277.1,343.3 278.5,340.8 279.7,338.3 280.8,335.8 282.0,333.3 283.1,330.8 284.2,328.3 285.2,325.8 286.2,323.3 287.2,320.8 288.2,318.3 289.2,315.8 290.2,313.3 291.2,310.8 292.3,308.3 293.3,305.8 294.1,303.3 294.7,300.8 295.2,298.3 295.9,295.8 296.6,293.3 297.4,290.8 298.2,288.3 298.9,285.8 299.5,283.3 300.1,280.8 300.7,278.3 301.2,275.8 302.1,273.3 302.9,270.8 303.7,268.3 304.5,265.8 305.5,263.3 306.5,260.8 307.1,258.3 307.4,255.8 307.7,253.3 308.0,250.8 308.4,248.3 308.9,245.8 309.3,243.3 309.6,240.8 310.0,238.3 310.5,235.8 311.0,233.3 311.6,230.8 312.1,228.3 312.7,225.8 313.2,223.3 314.0,220.8 314.7,218.3 315.5,215.8 316.6,213.3 317.5,210.8 318.2,208.3 318.8,205.8 319.4,203.3 320.0,200.8 320.3,198.3 320.5,195.8 320.0,193.3 319.1,190.8 319.2,188.3 319.3,185.8 319.4,183.3 319.5,180.8 319.5,178.3 319.6,175.8 319.5,173.3 319.4,170.8 319.2,168.3 318.7,165.8 318.3,163.3 318.1,160.8 317.8,158.3 317.7,155.8 317.6,153.3 317.5,150.8 317.6,148.3 317.7,145.8 317.5,143.3 317.3,141.3 308.6,141.2 308.4,140.8 307.1,138.3 306.2,135.8 305.1,133.3 303.8,130.8 302.6,128.3" fill="url(#ln4)"/>
</g>
<ellipse cx="299.0" cy="270" rx="1.5" ry="3.3" fill="#0000a0" transform="rotate(16 299 270)"/>
</g>
<polygon points="247.8,403.5 241.9,406.2 238.1,410.0 233.8,411.2 231.9,415.0 228.1,421.9 233.8,426.3 254.4,425.6 252.5,419.4 256.2,416.9 259.4,413.8 258.8,410.0 256.2,407.5 252.6,403.5" fill="url(#bay)"/>
<polygon points="256.2,407.5 261.2,403.8 268.8,402.5 271.9,397.5 273.1,390.0 273.8,382.5 277.5,377.5 284.0,370.0 285.0,370.6 277.9,378.5 277.5,382.5 276.9,390.0 275.0,397.5 272.5,402.5 271.9,404.4 265.0,405.0 258.8,410.0" fill="url(#er)"/>
<ellipse cx="252.5" cy="415" rx="3.6" ry="1.9" transform="rotate(-40 252.5 415)" fill="#fff"/>
<polyline points="298.4,311.9 294.0,318.0 289.4,325.0 288.4,333.0 288.4,341.9 292.2,352.2 289.5,357.0" fill="none" stroke="#ffc060" stroke-width="0.5" stroke-opacity="1" stroke-linejoin="round" stroke-linecap="round"/>
<polyline points="289.5,357.0 287.5,360.6" fill="none" stroke="#9eff61" stroke-width="1.1" stroke-opacity="1" stroke-linejoin="round" stroke-linecap="round"/>
<polyline points="287.5,360.6 284.4,370.0" fill="none" stroke="#3affc5" stroke-width="1.0" stroke-opacity="1" stroke-linejoin="round" stroke-linecap="round"/>
<polyline points="287.8,360.4 294.0,356.0 299.0,352.5 301.0,352.0" fill="none" stroke="#3070ff" stroke-width="1.0" stroke-opacity="1" stroke-linejoin="round" stroke-linecap="round"/>
<polygon points="193.1,38.9 406.1,36.4 411.9,424.4 196.8,426.6" fill="none" stroke="#000" stroke-width="1.7" stroke-linejoin="miter"/>
<path d="M217.80,426.43L217.76,422.63M213.85,38.66L213.89,42.46M261.00,425.98L260.96,422.18M256.64,38.15L256.67,41.95M304.20,425.53L304.16,421.73M299.43,37.65L299.46,41.45M347.40,425.07L347.36,421.27M342.21,37.15L342.25,40.95M390.60,424.62L390.56,420.82M385.00,36.65L385.04,40.45M193.14,47.70L196.93,47.66M406.23,45.21L402.43,45.25M194.06,143.00L197.86,142.96M407.66,140.57L403.86,140.61M194.98,238.00L198.78,237.96M409.08,235.63L405.28,235.67M195.89,332.20L199.69,332.16M410.49,329.89L406.69,329.93" stroke="#000" stroke-width="1.3" fill="none"/>
<g font-family='"Liberation Sans", Arial, Helvetica, sans-serif' fill="#000" stroke="#000" stroke-width="0.4" opacity="0.995" style="text-rendering:geometricPrecision">
<text x="246.1" y="200.2" font-size="15.8" text-anchor="start" >Nyack</text>
<text x="317.0" y="202.4" font-size="16.1" text-anchor="start" >Tarrytown</text>
<text x="302.8" y="284.8" font-size="16.0" text-anchor="start" >Yonkers</text>
<text x="298.1" y="337.5" font-size="15.8" text-anchor="start" >Bronx</text>
<text x="230.2" y="339.3" font-size="16.2" text-anchor="start" >GWB</text>
<text x="313.5" y="410.2" font-size="15.9" text-anchor="start" >Long Island</text>
<text x="191.6" y="54.2" font-size="13.5" text-anchor="end" >20'</text>
<text x="192.7" y="148.9" font-size="13.5" text-anchor="end" >10'</text>
<text x="193.8" y="338.3" font-size="13.5" text-anchor="end" >50'</text>
<text x="154.2" y="246.3" font-size="16.1">41<tspan dy="-8.3" font-size="11.5">o</tspan><tspan dy="8.3">N</tspan></text>
<text x="220.3" y="438.4" font-size="13.5" text-anchor="middle" >6'</text>
<text x="305.3" y="437.5" font-size="13.5" text-anchor="middle" >54'</text>
<text x="348.2" y="437.3" font-size="13.5" text-anchor="middle" >48'</text>
<text x="392.0" y="437.2" font-size="13.5" text-anchor="middle" >42'</text>
<text x="243.2" y="445.2" font-size="15.8">74<tspan dy="-9" font-size="11.5">o</tspan><tspan dy="9">W</tspan></text>
<text x="455.2" y="43.2" font-size="15" text-anchor="start" >1</text>
<text x="454.4" y="172.8" font-size="15" text-anchor="start" >0.1</text>
<text x="454.4" y="303.4" font-size="15" text-anchor="start" >0.01</text>
<text x="454.4" y="433.4" font-size="15" text-anchor="start" >0.001</text>
<text transform="translate(517.5 378) rotate(-90)" font-size="19.7" stroke-width="0.12" textLength="288.5" lengthAdjust="spacingAndGlyphs">pathogen concentration (relative)</text>
</g>
<rect x="429.2" y="36.4" width="22.7" height="391.7" fill="url(#jet)"/>
<path d="M429.4,427.7 V36.9 H451.5 V427.7 Z" fill="none" stroke="#000018" stroke-opacity="0.85" stroke-width="1.3"/>
<path d="M429.2,167 h4.8 M452.1,167 h-4.8" stroke="#000" stroke-width="1.2"/>
<path d="M429.2,297.5 h4.8 M452.1,297.5 h-4.8" stroke="#000" stroke-width="1.2"/>
</svg>
</body></html>
